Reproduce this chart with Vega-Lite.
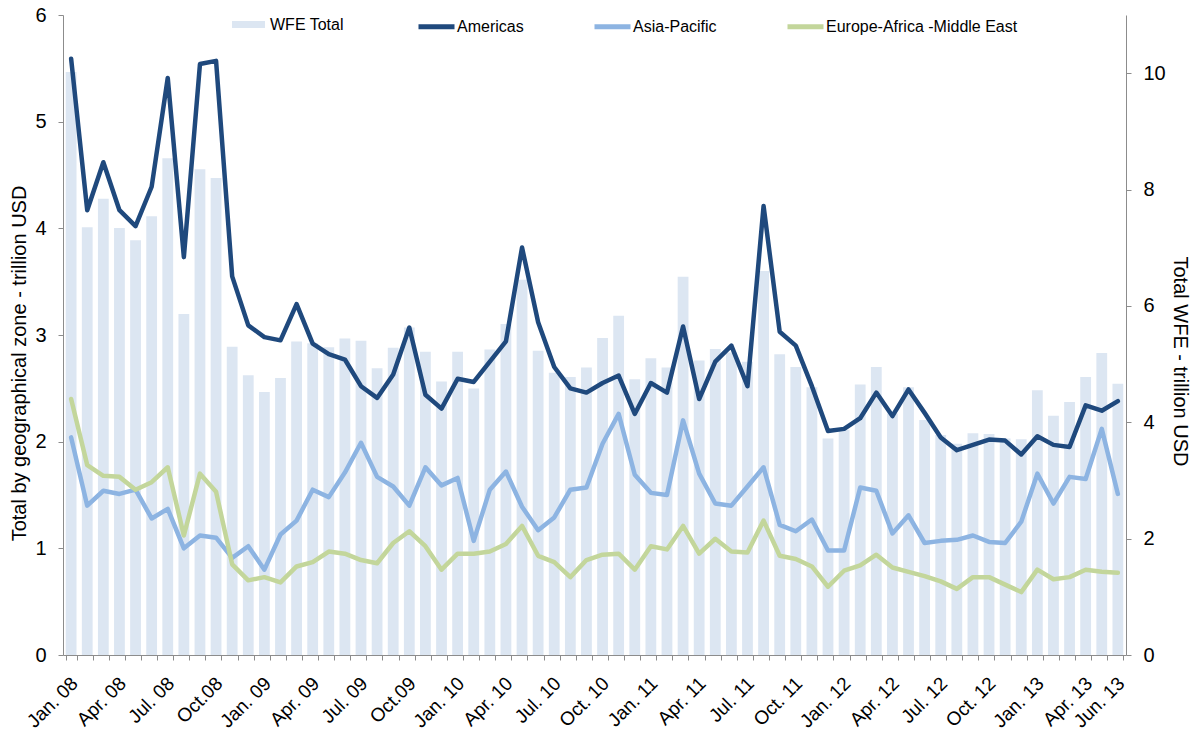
{
  "$schema": "https://vega.github.io/schema/vega-lite/v6.json",
  "width": 1063,
  "height": 640,
  "autosize": {"type": "none"},
  "padding": {"left": 63, "top": 15, "right": 75, "bottom": 80},
  "background": "white",
  "config": {
    "font": "Liberation Sans",
    "view": {"stroke": null},
    "axis": {
      "labelFont": "Liberation Sans",
      "titleFont": "Liberation Sans",
      "domainColor": "#8c8c8c",
      "tickColor": "#8c8c8c",
      "labelColor": "#000000",
      "titleColor": "#000000",
      "titleFontWeight": "normal",
      "grid": false
    },
    "legend": {"labelFont": "Liberation Sans", "labelColor": "#000000", "labelFontSize": 16, "labelLimit": 0}
  },
  "data": {
    "values": [
      {"month": "Jan. 08", "wfe": 10.02, "am": 5.59, "ap": 2.04, "eu": 2.40},
      {"month": "Feb. 08", "wfe": 7.35, "am": 4.17, "ap": 1.40, "eu": 1.78},
      {"month": "Mar. 08", "wfe": 7.84, "am": 4.62, "ap": 1.54, "eu": 1.68},
      {"month": "Apr. 08", "wfe": 7.34, "am": 4.17, "ap": 1.51, "eu": 1.67},
      {"month": "May 08", "wfe": 7.13, "am": 4.02, "ap": 1.55, "eu": 1.55},
      {"month": "Jun. 08", "wfe": 7.54, "am": 4.39, "ap": 1.28, "eu": 1.62},
      {"month": "Jul. 08", "wfe": 8.54, "am": 5.41, "ap": 1.37, "eu": 1.76},
      {"month": "Aug. 08", "wfe": 5.86, "am": 3.73, "ap": 1.00, "eu": 1.12},
      {"month": "Sep. 08", "wfe": 8.35, "am": 5.54, "ap": 1.12, "eu": 1.70},
      {"month": "Oct.08", "wfe": 8.20, "am": 5.57, "ap": 1.10, "eu": 1.53},
      {"month": "Nov. 08", "wfe": 5.30, "am": 3.55, "ap": 0.91, "eu": 0.85},
      {"month": "Dec. 08", "wfe": 4.81, "am": 3.09, "ap": 1.02, "eu": 0.70},
      {"month": "Jan. 09", "wfe": 4.52, "am": 2.98, "ap": 0.80, "eu": 0.73},
      {"month": "Feb. 09", "wfe": 4.76, "am": 2.95, "ap": 1.13, "eu": 0.68},
      {"month": "Mar. 09", "wfe": 5.39, "am": 3.29, "ap": 1.26, "eu": 0.83},
      {"month": "Apr. 09", "wfe": 5.36, "am": 2.92, "ap": 1.55, "eu": 0.87},
      {"month": "May 09", "wfe": 5.29, "am": 2.82, "ap": 1.48, "eu": 0.97},
      {"month": "Jun. 09", "wfe": 5.44, "am": 2.77, "ap": 1.71, "eu": 0.95},
      {"month": "Jul. 09", "wfe": 5.40, "am": 2.52, "ap": 1.99, "eu": 0.89},
      {"month": "Aug. 09", "wfe": 4.93, "am": 2.41, "ap": 1.67, "eu": 0.86},
      {"month": "Sep. 09", "wfe": 5.28, "am": 2.63, "ap": 1.58, "eu": 1.05},
      {"month": "Oct.09", "wfe": 5.63, "am": 3.07, "ap": 1.40, "eu": 1.16},
      {"month": "Nov. 09", "wfe": 5.21, "am": 2.44, "ap": 1.76, "eu": 1.02},
      {"month": "Dec. 09", "wfe": 4.70, "am": 2.31, "ap": 1.59, "eu": 0.80},
      {"month": "Jan. 10", "wfe": 5.21, "am": 2.59, "ap": 1.66, "eu": 0.95},
      {"month": "Feb. 10", "wfe": 4.58, "am": 2.56, "ap": 1.07, "eu": 0.95},
      {"month": "Mar. 10", "wfe": 5.25, "am": 2.75, "ap": 1.55, "eu": 0.97},
      {"month": "Apr. 10", "wfe": 5.69, "am": 2.94, "ap": 1.72, "eu": 1.04},
      {"month": "May 10", "wfe": 6.45, "am": 3.82, "ap": 1.39, "eu": 1.21},
      {"month": "Jun. 10", "wfe": 5.23, "am": 3.12, "ap": 1.17, "eu": 0.93},
      {"month": "Jul. 10", "wfe": 4.85, "am": 2.70, "ap": 1.29, "eu": 0.87},
      {"month": "Aug. 10", "wfe": 4.78, "am": 2.50, "ap": 1.55, "eu": 0.73},
      {"month": "Sep. 10", "wfe": 4.94, "am": 2.46, "ap": 1.57, "eu": 0.89},
      {"month": "Oct. 10", "wfe": 5.45, "am": 2.55, "ap": 1.98, "eu": 0.94},
      {"month": "Nov. 10", "wfe": 5.83, "am": 2.62, "ap": 2.26, "eu": 0.95},
      {"month": "Dec. 10", "wfe": 4.74, "am": 2.26, "ap": 1.69, "eu": 0.80},
      {"month": "Jan. 11", "wfe": 5.10, "am": 2.55, "ap": 1.52, "eu": 1.02},
      {"month": "Feb. 11", "wfe": 4.94, "am": 2.46, "ap": 1.50, "eu": 0.99},
      {"month": "Mar. 11", "wfe": 6.50, "am": 3.08, "ap": 2.20, "eu": 1.21},
      {"month": "Apr. 11", "wfe": 5.06, "am": 2.40, "ap": 1.70, "eu": 0.95},
      {"month": "May 11", "wfe": 5.26, "am": 2.75, "ap": 1.42, "eu": 1.09},
      {"month": "Jun. 11", "wfe": 5.20, "am": 2.90, "ap": 1.40, "eu": 0.97},
      {"month": "Jul. 11", "wfe": 5.04, "am": 2.52, "ap": 1.58, "eu": 0.96},
      {"month": "Aug. 11", "wfe": 6.60, "am": 4.21, "ap": 1.76, "eu": 1.26},
      {"month": "Sep. 11", "wfe": 5.17, "am": 3.03, "ap": 1.22, "eu": 0.93},
      {"month": "Oct. 11", "wfe": 4.95, "am": 2.90, "ap": 1.16, "eu": 0.90},
      {"month": "Nov. 11", "wfe": 4.60, "am": 2.52, "ap": 1.27, "eu": 0.83},
      {"month": "Dec. 11", "wfe": 3.72, "am": 2.10, "ap": 0.98, "eu": 0.64},
      {"month": "Jan. 12", "wfe": 3.87, "am": 2.12, "ap": 0.98, "eu": 0.79},
      {"month": "Feb. 12", "wfe": 4.65, "am": 2.22, "ap": 1.57, "eu": 0.84},
      {"month": "Mar. 12", "wfe": 4.95, "am": 2.46, "ap": 1.54, "eu": 0.94},
      {"month": "Apr. 12", "wfe": 4.15, "am": 2.24, "ap": 1.14, "eu": 0.82},
      {"month": "May 12", "wfe": 4.60, "am": 2.49, "ap": 1.31, "eu": 0.78},
      {"month": "Jun. 12", "wfe": 4.04, "am": 2.27, "ap": 1.05, "eu": 0.74},
      {"month": "Jul. 12", "wfe": 3.78, "am": 2.04, "ap": 1.07, "eu": 0.69},
      {"month": "Aug. 12", "wfe": 3.63, "am": 1.92, "ap": 1.08, "eu": 0.62},
      {"month": "Sep. 12", "wfe": 3.81, "am": 1.97, "ap": 1.12, "eu": 0.73},
      {"month": "Oct. 12", "wfe": 3.80, "am": 2.02, "ap": 1.06, "eu": 0.73},
      {"month": "Nov. 12", "wfe": 3.72, "am": 2.01, "ap": 1.05, "eu": 0.66},
      {"month": "Dec. 12", "wfe": 3.71, "am": 1.88, "ap": 1.25, "eu": 0.59},
      {"month": "Jan. 13", "wfe": 4.55, "am": 2.05, "ap": 1.70, "eu": 0.80},
      {"month": "Feb. 13", "wfe": 4.11, "am": 1.97, "ap": 1.42, "eu": 0.71},
      {"month": "Mar. 13", "wfe": 4.35, "am": 1.95, "ap": 1.67, "eu": 0.73},
      {"month": "Apr. 13", "wfe": 4.78, "am": 2.34, "ap": 1.65, "eu": 0.80},
      {"month": "May 13", "wfe": 5.19, "am": 2.29, "ap": 2.12, "eu": 0.78},
      {"month": "Jun. 13", "wfe": 4.66, "am": 2.38, "ap": 1.51, "eu": 0.77}
    ]
  },
  "layer": [
    {
      "mark": {"type": "bar"},
      "encoding": {
        "x": {
          "field": "month",
          "type": "nominal",
          "sort": null,
          "scale": {"paddingInner": 0.33, "paddingOuter": 0.17},
          "axis": {
            "title": null,
            "labelAngle": -45,
            "labelAlign": "right",
            "labelBaseline": "middle",
            "labelFontSize": 19,
            "labelPadding": 20,
            "labelOffset": 3,
            "labelOverlap": false,
            "tickBand": "extent",
            "tickSize": 5,
            "labelExpr": "test(/^(Jan|Apr|Jul|Oct)/, datum.value) || datum.value == 'Jun. 13' ? datum.value : ''"
          }
        },
        "y": {
          "field": "wfe",
          "type": "quantitative",
          "scale": {"domain": [0, 11], "nice": false},
          "axis": {
            "orient": "right",
            "values": [0, 2, 4, 6, 8, 10],
            "title": "Total WFE - trillion USD",
            "titleFontSize": 20,
            "labelFontSize": 20,
            "tickSize": 5,
            "labelPadding": 12,
            "titlePadding": 4,
            "titleY": 346
          }
        },
        "color": {
          "datum": "WFE Total",
          "type": "nominal",
          "scale": {"range": ["#DCE6F2"]},
          "legend": {
            "orient": "none",
            "legendX": 169,
            "legendY": -7,
            "direction": "horizontal",
            "title": null,
            "symbolType": "M-1,-0.21H1V0.21H-1Z",
            "symbolSize": 1089,
            "symbolStrokeWidth": 0,
            "labelOffset": 5
          }
        }
      }
    },
    {
      "transform": [{"fold": ["am", "ap", "eu"], "as": ["series", "value"]}],
      "mark": {"type": "line", "strokeWidth": 4.5, "strokeJoin": "round", "strokeCap": "round"},
      "encoding": {
        "x": {"field": "month", "type": "nominal", "sort": null},
        "y": {
          "field": "value",
          "type": "quantitative",
          "scale": {"domain": [0, 6], "nice": false},
          "axis": {
            "orient": "left",
            "values": [0, 1, 2, 3, 4, 5, 6],
            "title": "Total by geographical zone - trillion USD",
            "titleFontSize": 20,
            "labelFontSize": 20,
            "tickSize": 5,
            "labelPadding": 12,
            "titlePadding": 5,
            "titleY": 348
          }
        },
        "color": {
          "field": "series",
          "type": "nominal",
          "scale": {"domain": ["am", "ap", "eu"], "range": ["#1F497D", "#8DB4E2", "#C3D69B"]},
          "legend": {
            "orient": "none",
            "legendX": 353,
            "legendY": -9,
            "direction": "horizontal",
            "title": null,
            "symbolType": "stroke",
            "symbolSize": 1296,
            "symbolStrokeWidth": 5,
            "labelOffset": 0,
            "columnPadding": 60,
            "labelExpr": "datum.value == 'am' ? 'Americas' : datum.value == 'ap' ? 'Asia-Pacific' : 'Europe-Africa -Middle East'"
          }
        }
      }
    }
  ],
  "resolve": {"scale": {"y": "independent", "color": "independent"}}
}
